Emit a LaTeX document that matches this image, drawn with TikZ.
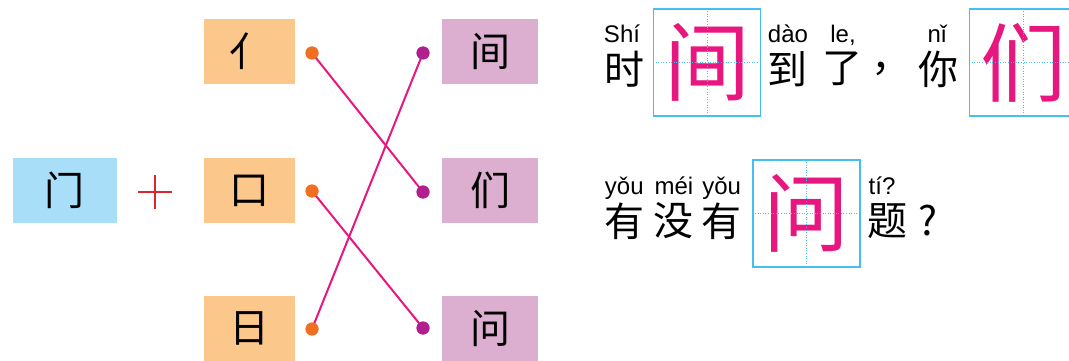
\documentclass[tikz,border=0pt]{standalone}
\usepackage{fontspec}
\setmainfont{Liberation Sans}
\newfontfamily\cjk{Noto Sans CJK SC}
\usetikzlibrary{positioning}
\definecolor{boxblue}{HTML}{A9DEF9}
\definecolor{boxorange}{HTML}{FCC78B}
\definecolor{boxpurple}{HTML}{DCAECF}
\definecolor{linemag}{HTML}{E8177F}
\definecolor{dotorange}{HTML}{F07023}
\definecolor{dotpurple}{HTML}{B01F8D}
\definecolor{plusred}{HTML}{D9282F}
\definecolor{gridblue}{HTML}{45BFEF}

\begin{document}
\begin{tikzpicture}[x=1pt,y=-1pt,
	part/.style={minimum height=65pt,inner sep=0pt,font=\cjk\fontsize{40}{40}\selectfont},
	dot/.style={circle,inner sep=0pt,minimum size=13pt},
	gridbox/.style={draw=gridblue,line width=1.2pt,minimum size=107pt,inner sep=0pt,text=linemag,font=\cjk\fontsize{86}{86}\selectfont},
	gridline/.style={gridblue,dotted,line width=0.6pt},
	py/.style={anchor=base,inner sep=0pt,font=\fontsize{24}{24}\selectfont},
	hz/.style={inner sep=0pt,font=\cjk\fontsize{40}{40}\selectfont}]
	\clip (0,0) rectangle (1069,361);
	\useasboundingbox (0,0) rectangle (1069,361);
	% left: parts
	\node[part,fill=boxblue,minimum width=104pt] (men) at (65,190.5) {门};
	\coordinate (plus) at (155,192);
	\draw[plusred,line width=2pt] ([xshift=-17pt]plus) -- ([xshift=17pt]plus);
	\draw[plusred,line width=2pt] ([yshift=-17pt]plus) -- ([yshift=17pt]plus);
	\node[part,fill=boxorange,minimum width=91pt] (ren) at (249.5,51.5) {亻};
	\node[part,fill=boxorange,minimum width=91pt] (kou) at (249.5,190.5) {口};
	\node[part,fill=boxorange,minimum width=91pt] (ri) at (249.5,328.5) {日};
	\node[part,fill=boxpurple,minimum width=96pt] (jian) at (490,51.5) {间};
	\node[part,fill=boxpurple,minimum width=96pt] (men2) at (490,190.5) {们};
	\node[part,fill=boxpurple,minimum width=96pt] (wen) at (490,328.5) {问};
	% dots and lines
	\node[dot,fill=dotorange] (a1) at (312,53) {};
	\node[dot,fill=dotorange] (a2) at (312,191) {};
	\node[dot,fill=dotorange] (a3) at (312,329) {};
	\node[dot,fill=dotpurple] (b1) at (423,53) {};
	\node[dot,fill=dotpurple] (b2) at (423,192) {};
	\node[dot,fill=dotpurple] (b3) at (423,328) {};
	\draw[linemag,line width=2pt] (a1.center) -- (b2.center);
	\draw[linemag,line width=2pt] (a2.center) -- (b3.center);
	\draw[linemag,line width=2pt] (a3.center) -- (b1.center);
	\fill[dotorange] (a1) circle(6.5); \fill[dotorange] (a2) circle(6.5); \fill[dotorange] (a3) circle(6.5);
	\fill[dotpurple] (b1) circle(6.5); \fill[dotpurple] (b2) circle(6.5); \fill[dotpurple] (b3) circle(6.5);
	% right: sentences
	\node[gridbox] (g1) at (707,62.5) {间};
	\node[gridbox] (g2) at (1023,62.5) {们};
	\node[gridbox] (g3) at (806.5,213.5) {问};
	\foreach \g in {g1,g2,g3} {
		\draw[gridline] (\g.north) -- (\g.south);
		\draw[gridline] (\g.west) -- (\g.east);
	}
	\node[py] (p1) at (622,43) {Shí};
	\node[hz] (s1) at (624,69) {时};
	\node[py] (p2) at (788,43) {dào};
	\node[hz] (s2) at (787,69) {到};
	\node[py] (p3) at (843,43) {le,};
	\node[hz] (s3) at (842,69) {了};
	\node[hz] (s4) at (891,69) {，};
	\node[py] (p4) at (937,43) {nǐ};
	\node[hz] (s5) at (938,69) {你};
	\node[py] (p5) at (673,194) {yǒu\hspace{11pt}méi\hspace{9pt}yǒu};
	\node[hz] (s6) at (624,221) {有};
	\node[hz] (s7) at (673,221) {没};
	\node[hz] (s8) at (721,221) {有};
	\node[py] (p6) at (882,194) {tí?};
	\node[hz] (s9) at (887,221) {题};
	\node[hz] (s10) at (928,221) {?};
\end{tikzpicture}
\end{document}
